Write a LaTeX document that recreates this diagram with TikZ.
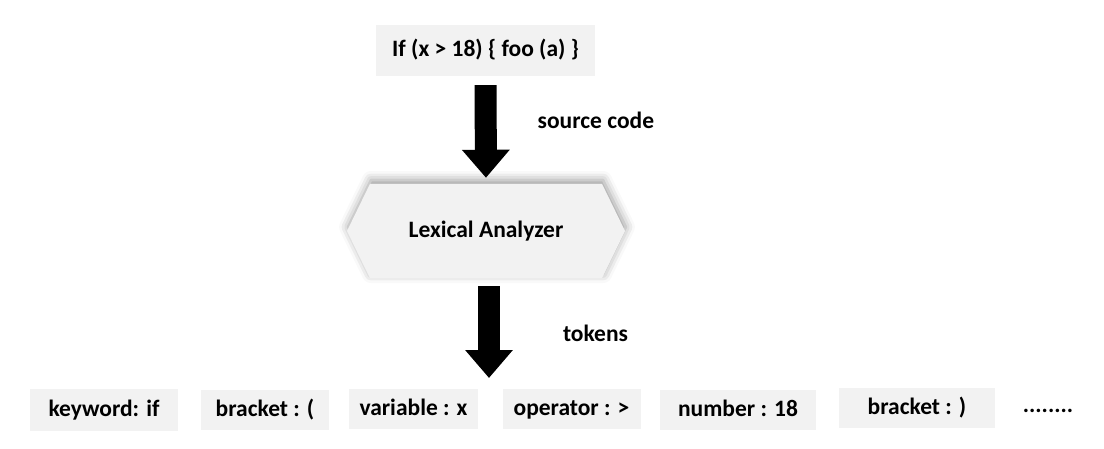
\documentclass[tikz,border=0pt]{standalone}
\usepackage{fontspec}
\setmainfont{Carlito}
\usetikzlibrary{arrows.meta,shapes.symbols,shadows.blur}

\definecolor{boxgray}{HTML}{F2F2F2}

\begin{document}
\begin{tikzpicture}[
      x=1pt, y=-1pt,
      txt/.style={font=\fontsize{23.5}{28}\selectfont\bfseries},
      box/.style={
        txt, fill=boxgray, inner sep=0pt,
        text height=16pt, text depth=3pt,
        minimum height=40pt
      },
      flow/.style={
        line width=22pt,
        -{Triangle[width=46pt,length=28pt]}
      }
    ]
    \useasboundingbox (0,0) rectangle (1104,449);

    % source code on top
    \node[box, minimum width=219pt, minimum height=51pt] (code) at (485.5,50.5) {If (x > 18) \{ foo (a) \}};

    % the analyzer
    \node[txt, signal, signal to=west and east, signal pointer angle=128,
          fill=boxgray, minimum width=278pt, minimum height=94pt, inner sep=0pt,
          text height=16pt, text depth=3pt,
          blur shadow={shadow xshift=1pt, shadow yshift=4pt, shadow blur radius=9pt, shadow opacity=40}]
          (lex) at (486,231) {Lexical Analyzer};

    % token row
    \node[box, minimum width=148pt, minimum height=42pt] (kw)  at (104,410)   {keyword: if};
    \node[box, minimum width=128pt] (brl) at (265,410)   {bracket : (};
    \node[box, minimum width=129pt] (var) at (413.5,409) {variable : x};
    \node[box, minimum width=138pt] (op)  at (571.5,409) {operator : >};
    \node[box, minimum width=156pt] (num) at (738,410)   {number : 18};
    \node[box, minimum width=156pt] (brr) at (917,408)   {bracket : )};
    \node[txt, anchor=base] (more) at (1048,412) {........};

    \coordinate (toks) at (489,378);

    % arrows
    \draw[flow, shorten <=9pt, shorten >=6pt] (code.south) -- (lex.north)
        node[txt, inner sep=0pt, pos=0.41, anchor=west, xshift=41pt] {source code};
    \draw[flow, shorten <=8pt] ([xshift=3pt]lex.south) -- (toks)
        node[txt, inner sep=0pt, pos=0.55, anchor=west, xshift=63pt] {tokens};
\end{tikzpicture}
\end{document}
